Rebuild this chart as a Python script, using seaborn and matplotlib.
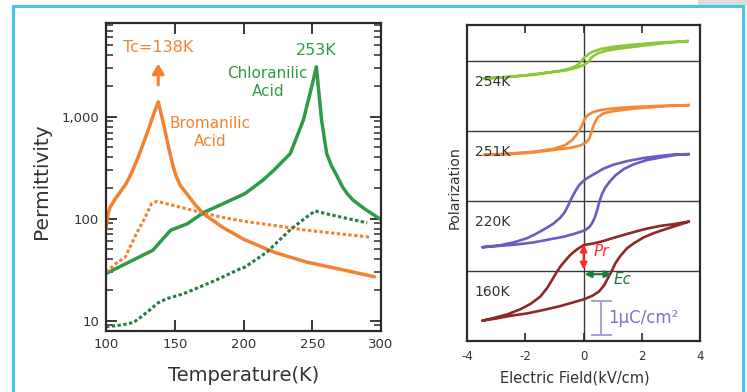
import matplotlib
matplotlib.use("Agg")
import matplotlib.pyplot as plt
import seaborn as sns
import pandas as pd
from matplotlib.patches import Rectangle
from matplotlib.ticker import FixedLocator, NullFormatter

# ---------------- Left panel: permittivity vs temperature ----------------
temp_br_solid = [100, 101.5, 103, 107, 111, 115, 119, 123, 127, 131, 134.9, 138,
                 139.5, 141, 143, 145, 147, 149, 151, 154, 158.7, 164.7, 170.8, 185, 200, 222, 246, 270, 295]
perm_br_solid = [80, 112, 130, 158, 188, 225, 290, 390, 540, 760, 1085, 1400,
                 1150, 950, 720, 540, 410, 320, 262, 212, 176, 138, 112, 82, 63, 47, 37.5, 32, 27]

temp_br_dot = [100, 108, 114, 122, 128, 133, 137, 150, 168, 185, 201, 222, 246, 270, 292]
perm_br_dot = [30, 37, 42, 71, 100, 140, 148, 134, 116, 103, 94, 86, 77, 71, 66]

temp_cl_solid = [100, 134, 147, 159, 171, 185, 201, 214, 222, 234, 243.5, 249.6, 253, 254.4, 256.8,
                 260.5, 264, 268, 272, 276, 280, 288, 297, 300]
perm_cl_solid = [29, 49, 77, 89, 115, 140, 176, 238, 298, 435, 924, 1966, 3090, 1966, 924,
                 435, 330, 262, 205, 172, 151, 125, 104, 98]

temp_cl_dot = [100, 112, 120, 126, 132, 138, 144, 156, 166, 180, 197, 201, 217, 234, 246, 252, 265, 290]
perm_cl_dot = [8.7, 9.1, 9.6, 11, 12.8, 15, 16.4, 18.3, 20.8, 25, 32, 33.5, 47, 78, 104, 119, 108, 91]

perm_ticks = [10, 100, 1000]
perm_tick_labels = ["10", "100", "1,000"]
temp_ticks = [100, 150, 200, 250, 300]

# ---------------- Right panel: P-E hysteresis loops ----------------
loop_names = ["160K", "220K", "251K", "254K"]
loop_offsets = [2, 4, 6, 8]

e_160 = [3.60, 3.09, 2.63, 2.06, 1.49, 1.03, 0.69, 0.34, 0.0, -0.23, -0.46, -0.63, -0.80, -0.94,
         -1.09, -1.26, -1.49, -1.83, -2.17, -2.63, -3.09, -3.49,
         -2.97, -2.52, -1.94, -1.37, -0.80, -0.34, 0.0, 0.29, 0.52, 0.71, 0.86, 0.97, 1.09,
         1.26, 1.49, 1.72, 2.06, 2.40, 2.86, 3.32, 3.60]
p_160 = [1.40, 1.33, 1.28, 1.18, 1.05, 0.94, 0.85, 0.78, 0.73, 0.61, 0.45, 0.29, 0.12, -0.06,
         -0.27, -0.50, -0.74, -0.95, -1.10, -1.25, -1.35, -1.43,
         -1.36, -1.29, -1.22, -1.12, -1.01, -0.90, -0.82, -0.72, -0.60, -0.41, -0.17, 0.0, 0.21,
         0.42, 0.64, 0.78, 0.95, 1.07, 1.20, 1.32, 1.40]

e_220 = [3.60, 3.09, 2.63, 2.06, 1.49, 1.03, 0.69, 0.40, 0.17, 0.0, -0.15, -0.26, -0.37, -0.46,
         -0.55, -0.66, -0.80, -1.03, -1.26, -1.60, -1.94, -2.40, -2.86, -3.49,
         -2.86, -2.29, -1.71, -1.14, -0.69, -0.34, -0.11, 0.06, 0.21, 0.32, 0.40, 0.48, 0.55,
         0.63, 0.74, 0.89, 1.09, 1.37, 1.72, 2.17, 2.75, 3.20, 3.60]
p_220 = [1.33, 1.32, 1.28, 1.22, 1.13, 1.03, 0.92, 0.78, 0.67, 0.57, 0.45, 0.31, 0.14, 0.0,
         -0.17, -0.34, -0.48, -0.65, -0.77, -0.93, -1.07, -1.19, -1.27, -1.33,
         -1.29, -1.25, -1.19, -1.10, -1.03, -0.95, -0.89, -0.84, -0.74, -0.60, -0.44, -0.22, 0.0,
         0.19, 0.37, 0.54, 0.72, 0.90, 1.04, 1.16, 1.25, 1.31, 1.33]

e_251 = [3.60, 2.63, 1.72, 1.03, 0.57, 0.29, 0.12, 0.02, -0.05, -0.14, -0.25, -0.40, -0.63,
         -1.03, -1.71, -2.52, -3.43,
         -2.52, -1.71, -1.03, -0.46, -0.11, 0.08, 0.20, 0.25, 0.31, 0.38, 0.48, 0.69, 1.03,
         1.72, 2.63, 3.60]
p_251 = [0.73, 0.71, 0.68, 0.64, 0.59, 0.52, 0.43, 0.31, 0.16, 0.02, -0.12, -0.27, -0.41,
         -0.52, -0.60, -0.65, -0.69,
         -0.67, -0.62, -0.55, -0.49, -0.42, -0.34, -0.22, -0.08, 0.07, 0.23, 0.38, 0.50, 0.56,
         0.63, 0.69, 0.73]

e_254 = [3.57, 2.63, 1.72, 1.03, 0.57, 0.29, 0.12, 0.0, -0.11, -0.25, -0.46, -0.80, -1.26,
         -1.94, -2.74, -3.45,
         -2.63, -1.71, -1.03, -0.57, -0.23, -0.02, 0.12, 0.23, 0.34, 0.52, 0.80, 1.26, 1.95,
         2.75, 3.57]
p_254 = [0.56, 0.52, 0.46, 0.40, 0.33, 0.25, 0.16, 0.07, -0.05, -0.14, -0.22, -0.29, -0.34,
         -0.41, -0.47, -0.51,
         -0.47, -0.40, -0.32, -0.27, -0.20, -0.13, -0.06, 0.05, 0.14, 0.22, 0.29, 0.35, 0.42,
         0.50, 0.56]

field_ticks = [-4, -2, 0, 2, 4]
field_tick_labels = ["-4", "-2", "0", "2", "4"]

# colours
ORANGE = "#f28230"
GREEN = "#2f9b47"
DKGREEN = "#2c7a3d"
loop_colors = {"160K": "#8c2a2a", "220K": "#6a5cc0", "251K": "#f5883a", "254K": "#8dc63f"}
TXT = "#333333"
SPINE = "#2a2a2a"

plt.rcParams["font.family"] = ["DejaVu Sans"]

fig = plt.figure(figsize=(7.47, 3.92), dpi=100)
fig.patch.set_facecolor("white")

# ---------- left axes ----------
axL = fig.add_axes([106 / 747, 1 - 331 / 392, 275 / 747, 308 / 392])

sns.lineplot(x=temp_br_solid, y=perm_br_solid, ax=axL, color=ORANGE, lw=2.5, sort=False, estimator=None)
sns.lineplot(x=temp_cl_solid, y=perm_cl_solid, ax=axL, color=GREEN, lw=2.5, sort=False, estimator=None)
lb = sns.lineplot(x=temp_br_dot, y=perm_br_dot, ax=axL, color=ORANGE, lw=2.2, sort=False, estimator=None)
lb.lines[-1].set_linestyle((0, (1.1, 0.8)))
lc = sns.lineplot(x=temp_cl_dot, y=perm_cl_dot, ax=axL, color=DKGREEN, lw=2.2, sort=False, estimator=None)
lc.lines[-1].set_linestyle((0, (1.1, 0.8)))

axL.set_yscale("log")
axL.set_xlim(100, 300)
axL.set_ylim(7.92, 8300)
axL.set_xticks(temp_ticks)
axL.set_xticklabels([str(t) for t in temp_ticks])
axL.set_yticks(perm_ticks)
axL.set_yticklabels(perm_tick_labels)
minor = [m * 10 ** k for k in range(0, 4) for m in range(2, 10)]
axL.yaxis.set_minor_locator(FixedLocator(minor))
axL.yaxis.set_minor_formatter(NullFormatter())
axL.tick_params(which="major", direction="in", length=8, width=1.3, left=True, right=True,
                top=True, bottom=True, labelsize=9.5, colors=SPINE, labelcolor=TXT, pad=5)
axL.tick_params(which="minor", direction="in", length=5, width=1.1, left=True, right=True,
                top=False, bottom=False, colors=SPINE)
for s in axL.spines.values():
    s.set_color(SPINE)
    s.set_linewidth(1.6)

axL.set_xlabel("Temperature(K)", fontsize=14, color=TXT, va="center")
axL.xaxis.set_label_coords(0.5, -0.145)
axL.set_ylabel("Permittivity", fontsize=14.5, color=TXT, va="center")
axL.yaxis.set_label_coords(-0.236, 0.487)

axL.text(138, 4770, "Tc=138K", color=ORANGE, fontsize=11.5, ha="center", va="center")
axL.annotate("", xy=(138, 3330), xytext=(138, 2050),
             arrowprops=dict(arrowstyle="-|>,head_length=0.6,head_width=0.35", color=ORANGE, lw=2.2,
                             shrinkA=0, shrinkB=0))
axL.text(253, 4430, "253K", color=GREEN, fontsize=11.5, ha="center", va="center")
axL.text(217.6, 2170, "Chloranilic\nAcid", color=GREEN, fontsize=11, ha="center", va="center",
         linespacing=1.25)
axL.text(175.6, 700, "Bromanilic\nAcid", color=ORANGE, fontsize=11, ha="center", va="center",
         linespacing=1.25)

# ---------- right axes ----------
axR = fig.add_axes([467.3 / 747, 1 - 340.7 / 392, 232.7 / 747, 315.7 / 392])

loop_e = {"160K": e_160, "220K": e_220, "251K": e_251, "254K": e_254}
loop_p = {"160K": p_160, "220K": p_220, "251K": p_251, "254K": p_254}
rows = []
for name, off in zip(loop_names, loop_offsets):
    for e, p in zip(loop_e[name], loop_p[name]):
        rows.append({"E": e, "P": p + off, "T": name})
df_loops = pd.DataFrame(rows)

for off in loop_offsets:
    axR.axhline(off, color="#3a3a3a", lw=1.0, zorder=1)
axR.axvline(0, color="#3a3a3a", lw=1.0, zorder=1)

sns.lineplot(data=df_loops, x="E", y="P", hue="T", palette=loop_colors, sort=False,
             estimator=None, lw=1.9, ax=axR, legend=False)

axR.set_xlim(-4, 4)
axR.set_ylim(0, 9.02)
axR.set_xticks(field_ticks)
axR.set_xticklabels(field_tick_labels)
axR.set_yticks([])
axR.tick_params(axis="x", direction="in", length=6, width=1.2, top=True, bottom=True,
                labelsize=8.5, colors=SPINE, labelcolor=TXT, pad=7)
for s in axR.spines.values():
    s.set_color(SPINE)
    s.set_linewidth(1.6)

axR.set_xlabel("Electric Field(kV/cm)", fontsize=10.5, color=TXT, va="center")
axR.xaxis.set_label_coords(0.464, -0.117)
axR.set_ylabel("Polarization", fontsize=10.3, color=TXT, va="center")
axR.yaxis.set_label_coords(-0.053, 0.484)

for name, off in zip(loop_names, loop_offsets):
    axR.text(-3.75, off - 0.6, name, fontsize=10, color=TXT, ha="left", va="center")

# Pr and Ec markers
axR.annotate("", xy=(0.0, 2.03), xytext=(0.0, 2.75),
             arrowprops=dict(arrowstyle="<|-|>,head_length=0.4,head_width=0.2", color="#ff2a2a", lw=1.6,
                             shrinkA=0, shrinkB=0))
axR.text(0.33, 2.55, "Pr", color="#ff2a2a", fontsize=11, style="italic", ha="left", va="center")
axR.annotate("", xy=(0.03, 1.9), xytext=(0.96, 1.9),
             arrowprops=dict(arrowstyle="<|-|>,head_length=0.4,head_width=0.2", color="#1e7a3c", lw=1.6,
                             shrinkA=0, shrinkB=0))
axR.text(1.03, 1.76, "Ec", color="#1e7a3c", fontsize=11, style="italic", ha="left", va="center")

# scale bar 1 uC/cm2
SB = "#a59fdc"
axR.plot([0.61, 0.61], [0.16, 1.13], color=SB, lw=1.4)
axR.plot([0.27, 0.95], [1.13, 1.13], color=SB, lw=1.4)
axR.plot([0.27, 0.95], [0.16, 0.16], color=SB, lw=1.4)
axR.text(0.85, 0.64, "1\u03bcC/cm\u00b2", color="#7f74c8", fontsize=12, ha="left", va="center")

# outer decorations
fig.add_artist(Rectangle((698 / 747, 1 - 5.5 / 392), 49 / 747, 5.5 / 392, transform=fig.transFigure,
                         facecolor="#dcdcdc", edgecolor="none", zorder=0))
fig.add_artist(Rectangle((12.5 / 747, -0.05), 730 / 747, 1.05 - 6.2 / 392, transform=fig.transFigure,
                         facecolor="none", edgecolor="#45c4ee", lw=2.2, zorder=5))

fig.savefig("out.png", dpi=100)
